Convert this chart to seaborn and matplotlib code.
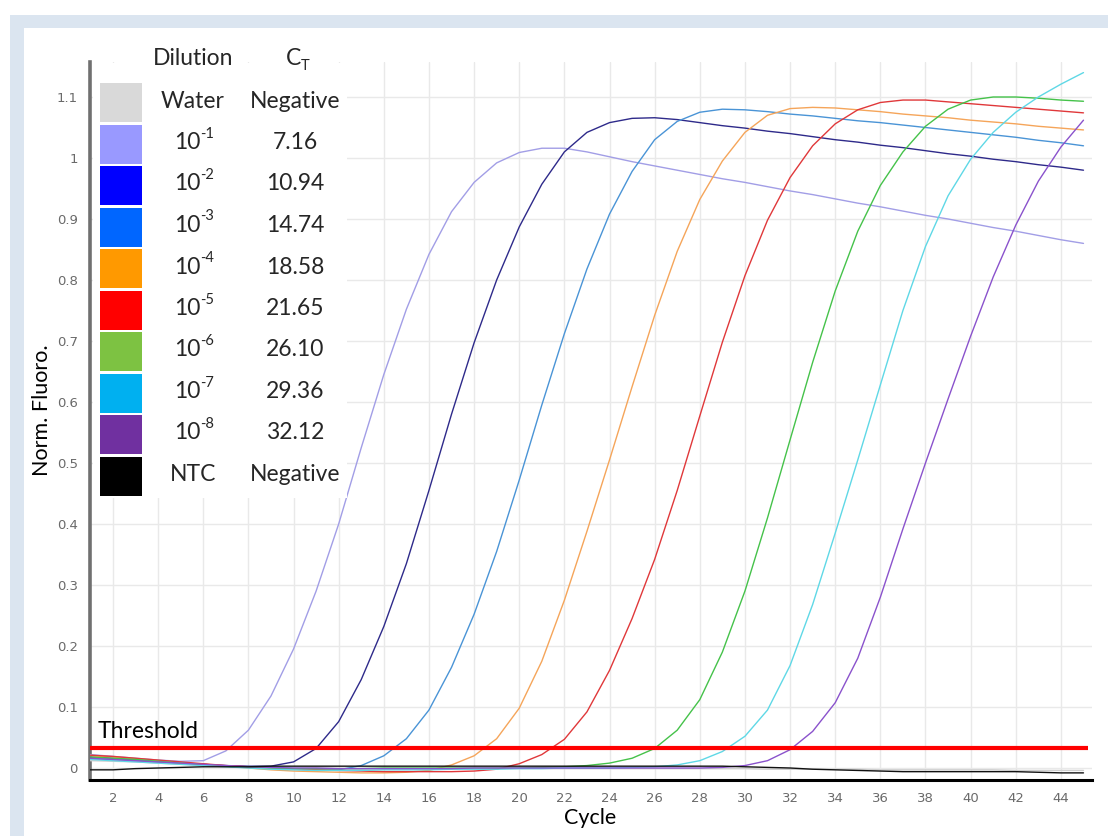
import matplotlib
matplotlib.use("Agg")
import matplotlib.pyplot as plt
from matplotlib.patches import Rectangle
import numpy as np
import pandas as pd
import seaborn as sns

# ---------------------------------------------------------------- data
cycles = list(range(1, 46))

water = [0.012, 0.011, 0.010, 0.008, 0.006, 0.004, 0.003, 0.002, 0.001, 0.000,
         0.000, -0.001, -0.001, -0.001, -0.001, -0.001, -0.001, -0.001, -0.001, -0.001,
         -0.001, -0.001, -0.001, -0.001, -0.001, -0.001, -0.001, -0.001, -0.001, -0.001,
         -0.002, -0.002, -0.002, -0.002, -0.002, -0.003, -0.003, -0.003, -0.003, -0.003,
         -0.003, -0.004, -0.004, -0.004, -0.004]

dil_1 = [0.022, 0.019, 0.016, 0.013, 0.011, 0.012, 0.028, 0.062, 0.118, 0.195,
         0.290, 0.400, 0.525, 0.645, 0.752, 0.842, 0.912, 0.960, 0.992, 1.009,
         1.016, 1.016, 1.010, 1.002, 0.994, 0.987, 0.980, 0.973, 0.966, 0.960,
         0.953, 0.946, 0.940, 0.933, 0.926, 0.920, 0.913, 0.906, 0.900, 0.893,
         0.886, 0.880, 0.873, 0.866, 0.860]

dil_2 = [0.018, 0.016, 0.013, 0.010, 0.008, 0.006, 0.004, 0.003, 0.003, 0.010,
         0.032, 0.076, 0.145, 0.232, 0.335, 0.455, 0.580, 0.697, 0.800, 0.887,
         0.957, 1.010, 1.042, 1.058, 1.065, 1.066, 1.063, 1.058, 1.053, 1.049,
         1.044, 1.040, 1.035, 1.030, 1.026, 1.021, 1.017, 1.012, 1.007, 1.003,
         0.998, 0.994, 0.989, 0.985, 0.980]

dil_3 = [0.015, 0.014, 0.012, 0.010, 0.008, 0.006, 0.003, 0.001, 0.000, -0.002,
         -0.003, -0.003, 0.004, 0.020, 0.048, 0.095, 0.165, 0.252, 0.355, 0.472,
         0.595, 0.712, 0.818, 0.908, 0.978, 1.030, 1.060, 1.075, 1.080, 1.079,
         1.076, 1.072, 1.069, 1.065, 1.061, 1.058, 1.054, 1.050, 1.046, 1.042,
         1.038, 1.034, 1.029, 1.025, 1.020]

dil_4 = [0.020, 0.018, 0.015, 0.012, 0.009, 0.006, 0.003, 0.000, -0.003, -0.005,
         -0.006, -0.007, -0.008, -0.008, -0.007, -0.004, 0.005, 0.020, 0.048, 0.098,
         0.175, 0.275, 0.388, 0.505, 0.625, 0.742, 0.847, 0.932, 0.995, 1.042,
         1.070, 1.081, 1.083, 1.082, 1.079, 1.076, 1.072, 1.069, 1.066, 1.062,
         1.059, 1.056, 1.052, 1.049, 1.046]

dil_5 = [0.021, 0.019, 0.016, 0.013, 0.010, 0.007, 0.004, 0.002, 0.000, -0.002,
         -0.003, -0.004, -0.005, -0.006, -0.006, -0.006, -0.006, -0.005, -0.002, 0.007,
         0.022, 0.047, 0.092, 0.160, 0.245, 0.342, 0.455, 0.577, 0.698, 0.807,
         0.898, 0.968, 1.020, 1.056, 1.079, 1.091, 1.095, 1.095, 1.092, 1.089,
         1.086, 1.083, 1.080, 1.077, 1.074]

dil_6 = [0.018, 0.016, 0.014, 0.011, 0.008, 0.005, 0.003, 0.001, 0.000, -0.001,
         -0.001, -0.001, -0.001, 0.000, 0.000, 0.000, 0.000, 0.000, 0.000, 0.000,
         0.001, 0.002, 0.004, 0.008, 0.016, 0.032, 0.062, 0.112, 0.190, 0.290,
         0.410, 0.538, 0.665, 0.782, 0.880, 0.955, 1.010, 1.052, 1.080, 1.095,
         1.100, 1.100, 1.098, 1.095, 1.093]

dil_7 = [0.014, 0.012, 0.010, 0.008, 0.006, 0.004, 0.002, 0.000, -0.002, -0.003,
         -0.004, -0.004, -0.004, -0.003, -0.003, -0.003, -0.002, -0.002, -0.002, -0.001,
         -0.001, 0.000, 0.000, 0.000, 0.001, 0.002, 0.005, 0.012, 0.027, 0.052,
         0.095, 0.168, 0.268, 0.385, 0.505, 0.628, 0.750, 0.855, 0.938, 0.998,
         1.042, 1.075, 1.100, 1.121, 1.140]

dil_8 = [0.016, 0.014, 0.012, 0.010, 0.008, 0.006, 0.004, 0.002, 0.001, 0.000,
         0.000, -0.001, -0.001, -0.001, -0.001, -0.001, -0.001, 0.000, 0.000, 0.000,
         0.000, 0.000, 0.000, 0.000, 0.000, 0.000, 0.000, 0.000, 0.001, 0.004,
         0.012, 0.030, 0.060, 0.107, 0.180, 0.280, 0.392, 0.500, 0.605, 0.708,
         0.805, 0.890, 0.962, 1.018, 1.062]

ntc = [-0.003, -0.003, -0.001, 0.000, 0.001, 0.002, 0.002, 0.002, 0.003, 0.003,
       0.003, 0.003, 0.003, 0.003, 0.003, 0.003, 0.003, 0.003, 0.003, 0.003,
       0.003, 0.003, 0.003, 0.003, 0.003, 0.003, 0.003, 0.003, 0.003, 0.002,
       0.001, 0.000, -0.002, -0.003, -0.004, -0.005, -0.006, -0.006, -0.006, -0.006,
       -0.006, -0.006, -0.007, -0.008, -0.008]

sample_names = ["Water", "1e-1", "1e-2", "1e-3", "1e-4", "1e-5", "1e-6", "1e-7", "1e-8", "NTC"]
dilution_base = ["Water", "10", "10", "10", "10", "10", "10", "10", "10", "NTC"]
dilution_exp = ["", "-1", "-2", "-3", "-4", "-5", "-6", "-7", "-8", ""]
ct_labels = ["Negative", "7.16", "10.94", "14.74", "18.58", "21.65",
             "26.10", "29.36", "32.12", "Negative"]

threshold = 0.033
threshold_end = 45.2

x_ticks = list(range(2, 45, 2))
y_ticks = [0.0, 0.1, 0.2, 0.3, 0.4, 0.5, 0.6, 0.7, 0.8, 0.9, 1.0, 1.1]

# ---------------------------------------------------------------- styling
curve_colors = {"Water": "#cfcfcf", "1e-1": "#a29ee6", "1e-2": "#2e2a8a",
                "1e-3": "#4a94d6", "1e-4": "#f5a55a", "1e-5": "#e0383a",
                "1e-6": "#45c24a", "1e-7": "#5fd8e6", "1e-8": "#8a52cc",
                "NTC": "#111111"}
swatch_colors = ["#d9d9d9", "#9999ff", "#0000ff", "#0066ff", "#ff9900",
                 "#ff0000", "#7dc242", "#00b0f0", "#7030a0", "#000000"]

sns.set_style("white")
plt.rcParams["font.family"] = ["Lato", "DejaVu Sans"]

W, H = 1108, 836
fig = plt.figure(figsize=(W / 100, H / 100), dpi=100)
fig.patch.set_facecolor("white")


def fx(px):
    return px / W


def fy(py):
    return 1 - py / H


# pale frame band along top and left edges
band = "#dbe5f0"
fig.patches.append(Rectangle((fx(10), fy(28)), fx(1098), 13 / H, transform=fig.transFigure,
                             facecolor=band, edgecolor="none", zorder=0))
fig.patches.append(Rectangle((fx(10), 0), fx(14), fy(15), transform=fig.transFigure,
                             facecolor=band, edgecolor="none", zorder=0))

ax_left, ax_right, ax_top, ax_bottom = 90.4, 1092, 62, 780
ax = fig.add_axes([fx(ax_left), 1 - ax_bottom / H, (ax_right - ax_left) / W,
                   (ax_bottom - ax_top) / H])
ax.set_facecolor("white")

# ---------------------------------------------------------------- curves
series = [water, dil_1, dil_2, dil_3, dil_4, dil_5, dil_6, dil_7, dil_8, ntc]
rows = []
for name, vals in zip(sample_names, series):
    for c, v in zip(cycles, vals):
        rows.append({"Cycle": c, "Fluoro": v, "Sample": name})
df = pd.DataFrame(rows)

sns.lineplot(data=df, x="Cycle", y="Fluoro", hue="Sample", hue_order=sample_names,
             palette=curve_colors, linewidth=1.0, estimator=None, sort=False,
             legend=False, ax=ax, zorder=3)
for ln in ax.lines:
    ln.set_solid_joinstyle("round")

ax.hlines(threshold, cycles[0], threshold_end, color="#ff0000", linewidth=3.0, zorder=4)
ax.text(1.3, threshold + 0.016, "Threshold", fontsize=16.5, color="black",
        ha="left", va="baseline", zorder=5)

# ---------------------------------------------------------------- axes
ax.set_xlim(1, 1 + (ax_right - ax_left) / 22.57)
ax.set_ylim((768 - ax_bottom) / 610, (768 - ax_top) / 610)
ax.set_xticks(x_ticks)
ax.set_yticks(y_ticks)
ax.set_xticklabels([str(t) for t in x_ticks])
ax.set_yticklabels(["%g" % t for t in y_ticks])
ax.grid(True, color="#e9e9e9", linewidth=1.0, zorder=0)
ax.set_axisbelow(True)
for side in ("top", "right"):
    ax.spines[side].set_visible(False)
ax.spines["left"].set_color("#707070")
ax.spines["left"].set_linewidth(2.6)
ax.spines["bottom"].set_color("black")
ax.spines["bottom"].set_linewidth(2.2)
ax.tick_params(axis="both", which="major", length=3, width=1, color="#8a8a8a",
               labelcolor="#6a6a6a", labelsize=9.5, pad=6, direction="out")
for lab in ax.get_xticklabels() + ax.get_yticklabels():
    lab.set_family("DejaVu Sans")

ax.set_xlabel("Cycle", fontsize=15.5, color="black")
ax.set_ylabel("Norm. Fluoro.", fontsize=15.5, color="black")
ax.xaxis.set_label_coords((590 - ax_left) / (ax_right - ax_left),
                          (ax_bottom - 808) / (ax_bottom - ax_top))
ax.yaxis.set_label_coords((52 - ax_left) / (ax_right - ax_left),
                          (ax_bottom - 410) / (ax_bottom - ax_top))

# ---------------------------------------------------------------- dilution / CT table
fig.patches.append(Rectangle((fx(93), fy(498)), fx(347 - 93), (498 - 63) / H,
                             transform=fig.transFigure, facecolor="white",
                             edgecolor="none", zorder=1))
fs, fs_small = 16.5, 10.5
fig.text(fx(193), fy(65), "Dilution", fontsize=fs, ha="center", va="baseline", zorder=6)
fig.text(fx(301), fy(65), "C", fontsize=fs, ha="right", va="baseline", zorder=6)
fig.text(fx(300.5), fy(70), "T", fontsize=fs_small, ha="left", va="baseline", zorder=6)

row_top, row_pitch, sw_h = 83, 41.5, 39
for i, (base, expo, ct, col) in enumerate(zip(dilution_base, dilution_exp,
                                              ct_labels, swatch_colors)):
    top = row_top + i * row_pitch
    fig.patches.append(Rectangle((fx(100), fy(top + sw_h)), fx(42), sw_h / H,
                                 transform=fig.transFigure, facecolor=col,
                                 edgecolor="none", zorder=2))
    baseline = top + 24.5
    if expo:
        fig.text(fx(200), fy(baseline), base, fontsize=fs, ha="right",
                 va="baseline", zorder=6)
        fig.text(fx(200.5), fy(top + 13), expo, fontsize=fs_small, ha="left",
                 va="baseline", zorder=6)
    else:
        fig.text(fx(193), fy(baseline), base, fontsize=fs, ha="center",
                 va="baseline", zorder=6)
    fig.text(fx(295), fy(baseline), ct, fontsize=fs, ha="center", va="baseline", zorder=6)

fig.savefig("out.png", dpi=100, facecolor="white")
